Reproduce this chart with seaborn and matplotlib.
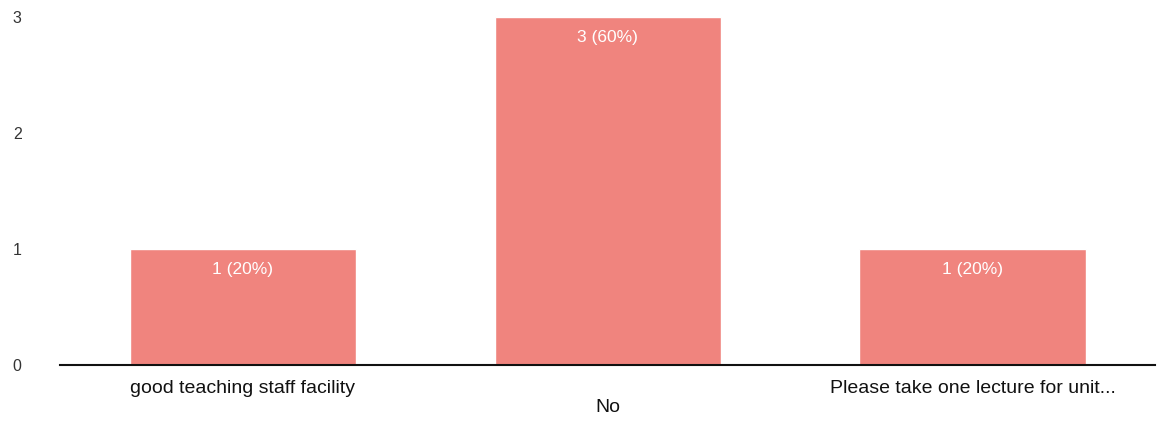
import matplotlib
matplotlib.use("Agg")
import matplotlib.pyplot as plt
import seaborn as sns
import pandas as pd

categories = ["good teaching staff facility", "No", "Please take one lecture for unit..."]
counts = [1, 3, 1]
percents = [20, 60, 20]
yticks = [0, 1, 2, 3]

sns.set_theme(style="white")
plt.rcParams["font.family"] = ["Liberation Sans", "DejaVu Sans"]

df = pd.DataFrame({"answer": categories, "count": counts})

fig = plt.figure(figsize=(11.62, 4.34), dpi=100)
ax = fig.add_axes([0.052, 0.16, 0.942, 0.80])
sns.barplot(data=df, x="answer", y="count", color="#F0847E", saturation=1,
            width=0.62, ax=ax)

labels = [f"{c} ({p}%)" for c, p in zip(counts, percents)]
ax.bar_label(ax.containers[0], labels=labels, label_type="edge", padding=-20,
             color="white", fontsize=12.5)

ax.set_ylim(0, 3)
ax.set_yticks(yticks)
ax.set_yticklabels([str(t) for t in yticks], color="#333333", fontsize=11.5)
ax.tick_params(axis="y", length=0, pad=28)
ax.tick_params(axis="x", length=0, pad=11)
ax.set_xticks(range(len(categories)))
ax.set_xticklabels([("\n" + c) if i % 2 == 1 else c for i, c in enumerate(categories)],
                   fontsize=14, color="#111111")
ax.set_xlabel("")
ax.set_ylabel("")
for s in ["top", "right", "left"]:
    ax.spines[s].set_visible(False)
ax.spines["bottom"].set_color("#111111")
ax.spines["bottom"].set_linewidth(1.5)
ax.set_xlim(-0.5, 2.5)

fig.savefig("out.png", dpi=100)
